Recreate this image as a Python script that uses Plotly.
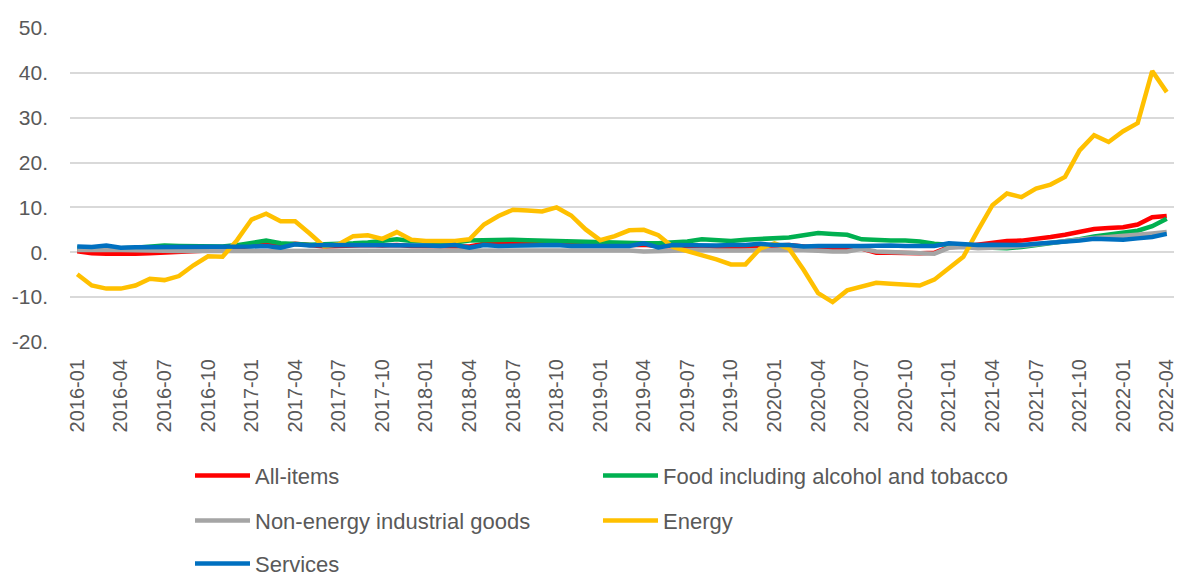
import plotly.graph_objects as go

months = [f"{y}-{m:02d}" for y in range(2016, 2023) for m in range(1, 13)][:76]

all_items = [0.2, -0.2, -0.3, -0.4, -0.3, -0.2, -0.1, 0.0, 0.2, 0.4, 0.6, 1.0,
             1.6, 1.9, 1.6, 1.9, 1.6, 1.3, 1.4, 1.6, 1.6, 1.5, 1.6, 1.4,
             1.4, 1.4, 1.5, 1.3, 1.9, 2.0, 2.1, 2.1, 2.2, 2.2, 2.0, 1.6,
             1.5, 1.5, 1.6, 1.7, 1.4, 1.3, 1.2, 1.2, 1.2, 1.2, 1.3, 1.5,
             1.7, 1.6, 1.3, 0.9, 0.9, 1.0, 0.8, -0.1, -0.1, -0.2, -0.2, -0.1,
             1.2, 1.3, 1.7, 2.3, 2.5, 2.6, 2.9, 3.4, 3.9, 4.5, 5.2, 5.4,
             5.6, 6.2, 7.8, 8.1]

food = [1.0, 0.9, 1.0, 0.9, 1.0, 1.2, 1.5, 1.4, 1.3, 1.2, 1.3, 1.6,
        2.0, 2.6, 2.0, 1.8, 1.7, 1.8, 1.8, 2.0, 2.2, 2.5, 2.9, 2.5,
        2.4, 2.3, 2.2, 2.6, 2.7, 2.8, 2.8, 2.7, 2.6, 2.6, 2.3, 2.2,
        2.2, 2.2, 2.1, 2.0, 2.0, 2.1, 2.4, 2.9, 2.6, 2.5, 2.8, 2.9,
        3.0, 3.3, 3.8, 4.3, 4.1, 3.9, 2.9, 2.7, 2.6, 2.6, 2.4, 1.9,
        1.6, 1.3, 1.2, 1.0, 0.9, 1.2, 1.6, 1.9, 2.3, 2.9, 3.5, 3.9,
        4.3, 4.8, 5.8, 7.5]

neig = [0.5, 0.6, 0.5, 0.5, 0.4, 0.4, 0.4, 0.3, 0.3, 0.3, 0.3, 0.3,
        0.4, 0.3, 0.3, 0.3, 0.3, 0.4, 0.4, 0.5, 0.5, 0.4, 0.3, 0.4,
        0.4, 0.4, 0.3, 0.3, 0.3, 0.3, 0.5, 0.4, 0.3, 0.3, 0.4, 0.4,
        0.3, 0.5, 0.4, 0.2, 0.3, 0.3, 0.4, 0.5, 0.4, 0.3, 0.4, 0.5,
        0.4, 0.5, 0.5, 0.3, 0.2, 0.2, 0.8, 0.2, 0.1, 0.1, 0.0, -0.3,
        1.0, 1.2, 0.9, 0.9, 1.1, 1.4, 1.8, 2.1, 2.5, 2.9, 3.2, 3.4,
        3.6, 3.8, 4.2, 4.5]

energy = [-4.9, -7.4, -8.1, -8.1, -7.4, -5.9, -6.2, -5.3, -2.9, -0.9, -1.0, 2.7,
          7.3, 8.6, 6.9, 6.9, 4.2, 1.3, 1.8, 3.6, 3.8, 3.0, 4.5, 2.8,
          2.5, 2.5, 2.5, 2.9, 6.2, 8.1, 9.5, 9.3, 9.1, 10.0, 8.2, 5.1,
          2.7, 3.6, 4.9, 5.0, 3.8, 1.2, 0.3, -0.7, -1.6, -2.7, -2.7, 0.8,
          2.0, 0.8, -3.9, -9.1, -11.1, -8.5, -7.6, -6.8, -7.0, -7.1, -7.4, -6.1,
          -3.5, -1.0, 4.9, 10.5, 13.1, 12.3, 14.2, 15.1, 16.8, 22.7, 26.1, 24.6,
          27.0, 28.8, 40.4, 35.7]

services = [1.3, 1.2, 1.5, 1.0, 1.1, 1.1, 1.2, 1.3, 1.2, 1.2, 1.2, 1.3,
            1.3, 1.4, 1.0, 1.8, 1.5, 1.6, 1.6, 1.7, 1.6, 1.6, 1.5, 1.5,
            1.5, 1.4, 1.6, 1.0, 1.6, 1.4, 1.5, 1.5, 1.5, 1.6, 1.4, 1.4,
            1.4, 1.3, 1.4, 2.0, 1.1, 1.6, 1.5, 1.5, 1.5, 1.6, 1.6, 1.9,
            1.6, 1.6, 1.3, 1.4, 1.5, 1.4, 1.4, 1.5, 1.5, 1.4, 1.3, 1.4,
            2.0, 1.7, 1.6, 1.7, 1.6, 1.6, 1.9, 2.1, 2.3, 2.6, 3.0, 3.0,
            2.8, 3.1, 3.4, 4.1]

series_names = ["All-items", "Food including alcohol and tobacco",
                "Non-energy industrial goods", "Energy", "Services"]
series_values = [all_items, food, neig, energy, services]
series_colors = ["#FF0000", "#00B050", "#A5A5A5", "#FFC000", "#0070C0"]
legend_ids = ["legend", "legend2", "legend3", "legend4", "legend5"]

y_tickvals = [-20, -10, 0, 10, 20, 30, 40, 50]
y_ticktext = ["-20.", "-10.", "0.", "10.", "20.", "30.", "40.", "50."]
x_tickvals = months[::3]

fig = go.Figure()
for name, vals, col, lg in zip(series_names, series_values, series_colors, legend_ids):
    fig.add_trace(go.Scatter(x=months, y=vals, name=name, mode="lines",
                             line=dict(color=col, width=4.5), legend=lg))

font_color = "#595959"
leg_common = dict(orientation="h", font=dict(family="Liberation Sans", size=22, color=font_color),
                  itemwidth=55, xanchor="left", yanchor="middle", bgcolor="rgba(0,0,0,0)",
                  itemclick=False, itemdoubleclick=False)

W, H = 1177, 576
left, right = 70, 1174
top, bottom = 27.5, 342.0
def px(p):
    return (p - left) / (right - left)
def py(p):
    return (bottom - p) / (bottom - top)

# legend grid: 2 columns, 3 rows (pixel positions of each entry)
col_x = [190, 598]
row_y = [476, 521, 564]
legend_layout = {}
for k, lg in enumerate(legend_ids):
    legend_layout[lg] = dict(**leg_common, x=px(col_x[k % 2]), y=py(row_y[k // 2]))

fig.update_layout(
    width=W, height=H,
    margin=dict(l=left, r=W - right, t=top, b=H - bottom, autoexpand=False),
    paper_bgcolor="white", plot_bgcolor="white",
    font=dict(family="Liberation Sans", size=20, color=font_color),
    showlegend=True,
    **legend_layout,
    xaxis=dict(type="category", range=[-0.5, 75.5], tickmode="array",
               tickvals=x_tickvals, ticktext=x_tickvals, tickangle=-90,
               showgrid=False, zeroline=False, showline=False, ticks="",
               ticklabelstandoff=12, tickfont=dict(size=20, color=font_color)),
    yaxis=dict(range=[-20, 50], tickmode="array", tickvals=y_tickvals, ticktext=y_ticktext,
               showgrid=True, gridcolor="#D9D9D9", gridwidth=1.5, zeroline=False,
               showline=False, ticks="", ticklabelstandoff=21,
               tickfont=dict(size=21, color=font_color)),
)

fig.write_html("out.html", config={"displayModeBar": False},
               post_script="document.body.style.margin='0';document.body.style.overflow='hidden';")
